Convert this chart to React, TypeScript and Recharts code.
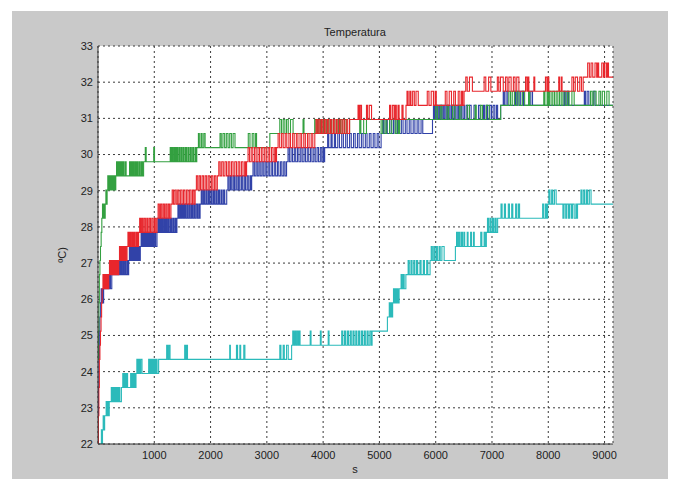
import React from "react";
import { LineChart, Line, XAxis, YAxis, CartesianGrid } from "recharts";

const title = "Temperatura";
const xLabel = "s";
const yLabel = "ºC)";
const xTicks = [1000, 2000, 3000, 4000, 5000, 6000, 7000, 8000, 9000];
const yTicks = [22, 23, 24, 25, 26, 27, 28, 29, 30, 31, 32, 33];

const red: [number, number][] = [
  [0,22.0],[8,22.78],[16,23.56],[24,24.34],[34,24.73],[44,25.12],[54,25.51],[64,25.9],[74,26.29],
  [88,26.68],[100,26.29],[114,26.68],[126,26.29],[140,26.68],[152,26.29],[166,26.68],[178,26.29],[191,26.68],
  [204,27.07],[216,26.68],[232,27.07],[248,26.68],[266,27.07],[282,26.68],[300,27.07],[316,26.68],[334,27.07],[350,26.68],[368,27.07],
  [382,27.46],[396,27.07],[412,27.46],[428,27.07],[446,27.46],[462,27.07],[480,27.46],[496,27.07],[516,27.46],
  [532,27.85],[548,27.46],[566,27.85],[584,27.46],[604,27.85],[622,27.46],[642,27.85],[662,27.46],[684,27.85],[704,27.46],[722,27.85],
  [740,28.24],[758,27.85],[778,28.24],[798,27.85],[820,28.24],[842,27.85],[866,28.24],[886,27.85],[910,28.24],[932,27.85],[956,28.24],[980,27.85],[1004,28.24],[1026,27.85],[1048,28.24],
  [1068,28.63],[1090,28.24],[1112,28.63],[1134,28.24],[1158,28.63],[1180,28.24],[1204,28.63],[1226,28.24],[1250,28.63],[1272,28.24],[1296,28.63],
  [1318,29.02],[1340,28.63],[1366,29.02],[1390,28.63],[1416,29.02],[1440,28.63],[1468,29.02],[1494,28.63],[1520,29.02],[1546,28.63],[1574,29.02],[1600,28.63],[1628,29.02],[1654,28.63],[1680,29.02],[1704,28.63],[1726,29.02],
  [1748,29.41],[1772,29.02],[1798,29.41],[1822,29.02],[1850,29.41],[1876,29.02],[1904,29.41],[1930,29.02],[1958,29.41],[1986,29.02],[2014,29.41],[2040,29.02],[2068,29.41],[2094,29.02],[2120,29.41],
  [2146,29.8],[2170,29.41],[2198,29.8],[2226,29.41],[2256,29.8],[2284,29.41],[2314,29.8],[2342,29.41],[2372,29.8],[2400,29.41],[2430,29.8],[2460,29.41],[2490,29.8],[2518,29.41],[2548,29.8],[2576,29.41],[2606,29.8],[2624,29.41],[2640,29.8],
  [2666,30.19],[2692,29.8],[2722,30.19],[2750,29.8],[2782,30.19],[2810,29.8],[2842,30.19],[2870,29.8],[2902,30.19],[2930,29.8],[2962,30.19],[2990,29.8],[3022,30.19],[3050,29.8],[3082,30.19],[3110,29.8],[3140,30.19],[3160,29.8],[3172,30.19],
  [3200,30.58],[3228,30.19],[3262,30.58],[3290,30.19],[3326,30.58],[3354,30.19],[3392,30.58],[3420,30.19],[3458,30.58],[3486,30.19],[3524,30.58],[3552,30.19],[3590,30.58],[3618,30.19],[3656,30.58],[3684,30.19],[3722,30.58],[3750,30.19],[3788,30.58],[3816,30.19],[3852,30.58],
  [3874,30.97],[3896,30.58],[3922,30.97],[3946,30.58],[3972,30.97],[3996,30.58],[4024,30.97],[4048,30.58],[4076,30.97],[4100,30.58],[4130,30.97],[4154,30.58],[4184,30.97],[4208,30.58],[4238,30.97],[4262,30.58],[4292,30.97],[4318,30.58],[4350,30.97],[4376,30.58],[4410,30.97],[4436,30.58],[4470,30.97],
  [4620,31.36],[4640,30.97],[4660,31.36],[4682,30.97],[4770,31.36],[4790,30.97],[4820,31.36],[4860,30.97],[5180,31.36],[5200,30.97],[5230,31.36],[5260,30.97],[5280,31.36],[5300,30.97],[5330,31.36],[5350,30.97],[5400,31.36],[5420,30.97],
  [5472,31.36],
  [5490,31.75],[5510,31.36],[5540,31.75],[5560,31.36],[5590,31.75],[5620,31.36],[5650,31.75],[5690,31.36],[5850,31.75],[5880,31.36],[5920,31.75],[5960,31.36],[5990,31.75],[6010,31.36],[6170,31.75],[6200,31.36],[6240,31.75],[6280,31.36],[6320,31.75],[6350,31.36],[6400,31.75],[6430,31.36],[6460,31.75],[6480,31.36],
  [6504,31.75],
  [6534,32.14],[6560,31.75],[6600,32.14],[6652,31.75],[6860,32.14],[6890,31.75],[6940,32.14],[6980,31.75],[7095,32.14],[7120,31.75],[7150,32.14],[7200,31.75],[7240,32.14],[7270,31.75],[7300,32.14],[7340,31.75],[7380,32.14],[7410,31.75],[7440,32.14],[7478,31.75],[7596,32.14],[7620,31.75],[7640,32.14],[7655,31.75],[7744,32.14],[7760,31.75],[7950,32.14],[7975,31.75],[7995,32.14],[8010,31.75],[8186,32.14],[8200,31.75],[8230,32.14],[8245,31.75],[8420,32.14],[8450,31.75],[8480,32.14],[8520,31.75],[8560,32.14],[8590,31.75],[8620,32.14],
  [8690,32.14],
  [8700,32.53],[8730,32.14],[8760,32.53],[8790,32.14],[8830,32.53],[8860,32.14],[8880,32.53],[8895,32.14],[8950,32.53],[8980,32.14],[9000,32.53],[9030,32.14],[9050,32.53],[9070,32.14],[9150,32.14],
];

const blue: [number, number][] = [
  [0,22.78],[8,23.56],[16,24.34],[24,25.12],[32,25.51],[42,25.9],
  [56,26.29],[66,25.9],[78,26.29],[88,25.9],[100,26.29],
  [112,26.68],[122,26.29],[134,26.68],[146,26.29],[158,26.68],[170,26.29],[184,26.68],[196,26.29],[210,26.68],[222,26.29],[245,26.68],
  [258,27.07],[270,26.68],[284,27.07],[296,26.68],[312,27.07],[326,26.68],[342,27.07],[356,26.68],[374,27.07],[390,26.68],[410,27.07],[426,26.68],[446,27.07],[462,26.68],[482,27.07],[498,26.68],[520,27.07],[534,26.68],[545,27.07],
  [558,27.46],[570,27.07],[586,27.46],[600,27.07],[616,27.46],[632,27.07],[648,27.46],[664,27.07],[682,27.46],[698,27.07],[716,27.46],[732,27.07],[752,27.46],
  [766,27.85],[780,27.46],[796,27.85],[812,27.46],[830,27.85],[846,27.46],[864,27.85],[880,27.46],[898,27.85],[914,27.46],[934,27.85],[950,27.46],[970,27.85],[986,27.46],[1006,27.85],[1024,27.46],[1048,27.85],
  [1064,28.24],[1080,27.85],[1098,28.24],[1116,27.85],[1134,28.24],[1152,27.85],[1172,28.24],[1190,27.85],[1210,28.24],[1228,27.85],[1248,28.24],[1266,27.85],[1288,28.24],[1306,27.85],[1328,28.24],[1346,27.85],[1368,28.24],[1386,27.85],[1402,28.24],
  [1420,28.63],[1438,28.24],[1458,28.63],[1476,28.24],[1496,28.63],[1516,28.24],[1536,28.63],[1556,28.24],[1578,28.63],[1598,28.24],[1620,28.63],[1640,28.24],[1662,28.63],[1682,28.24],[1704,28.63],[1724,28.24],[1746,28.63],[1768,28.24],[1790,28.63],[1804,28.24],[1814,28.63],
  [1834,29.02],[1854,28.63],[1876,29.02],[1896,28.63],[1920,29.02],[1940,28.63],[1964,29.02],[1984,28.63],[2008,29.02],[2028,28.63],[2052,29.02],[2072,28.63],[2096,29.02],[2116,28.63],[2140,29.02],[2160,28.63],[2186,29.02],[2206,28.63],[2232,29.02],[2252,28.63],[2287,29.02],
  [2308,29.41],[2330,29.02],[2354,29.41],[2376,29.02],[2402,29.41],[2424,29.02],[2450,29.41],[2472,29.02],[2498,29.41],[2520,29.02],[2548,29.41],[2570,29.02],[2598,29.41],[2620,29.02],[2648,29.41],[2670,29.02],[2700,29.41],[2716,29.02],[2730,29.41],
  [2754,29.8],[2778,29.41],[2806,29.8],[2830,29.41],[2858,29.8],[2882,29.41],[2912,29.8],[2936,29.41],[2966,29.8],[2990,29.41],[3020,29.8],[3044,29.41],[3076,29.8],[3100,29.41],[3132,29.8],[3156,29.41],[3188,29.8],[3212,29.41],[3244,29.8],[3268,29.41],[3300,29.8],[3324,29.41],[3350,29.8],
  [3376,30.19],[3400,29.8],[3430,30.19],[3456,29.8],[3488,30.19],[3512,29.8],[3544,30.19],[3570,29.8],[3602,30.19],[3628,29.8],[3660,30.19],[3686,29.8],[3718,30.19],[3744,29.8],[3776,30.19],[3802,29.8],[3834,30.19],[3860,29.8],[3892,30.19],[3918,29.8],[3950,30.19],[3976,29.8],[4000,30.19],[4014,29.8],[4027,30.19],
  [4080,30.58],[4100,30.19],[4140,30.58],[4160,30.19],[4200,30.58],[4220,30.19],[4260,30.58],[4290,30.19],[4330,30.58],[4360,30.19],[4400,30.58],[4430,30.19],[4470,30.58],[4500,30.19],[4540,30.58],[4570,30.19],[4610,30.58],[4640,30.19],[4680,30.58],[4710,30.19],[4750,30.58],[4780,30.19],[4820,30.58],[4850,30.19],[4890,30.58],[4920,30.19],[4960,30.58],[4990,30.19],[5030,30.58],
  [5060,30.97],[5080,30.58],[5120,30.97],[5140,30.58],[5180,30.97],[5210,30.58],[5250,30.97],[5280,30.58],[5320,30.97],[5350,30.58],[5390,30.97],[5420,30.58],[5460,30.97],[5490,30.58],[5530,30.97],[5560,30.58],[5600,30.97],[5630,30.58],[5670,30.97],[5700,30.58],[5740,30.97],[5770,30.58],[5943,30.97],
  [5960,31.36],[5980,30.97],[6000,31.36],[6022,30.97],[6044,31.36],[6066,30.97],[6090,31.36],[6112,30.97],[6136,31.36],[6160,30.97],[6184,31.36],[6208,30.97],[6232,31.36],[6256,30.97],[6282,31.36],[6306,30.97],[6332,31.36],[6356,30.97],[6382,31.36],[6406,30.97],[6432,31.36],[6456,30.97],[6484,31.36],[6510,30.97],[6540,31.36],[6566,30.97],[6600,31.36],[6630,30.97],[6680,31.36],[6710,30.97],[6760,31.36],[6790,30.97],[6850,31.36],[6870,30.97],[6900,31.36],[6920,30.97],[6960,31.36],[6990,30.97],[7020,31.36],[7050,30.97],[7080,31.36],[7100,30.97],[7154,31.36],
  [7200,31.75],[7220,31.36],[7250,31.75],[7280,31.36],[7400,31.75],[7420,31.36],[7450,31.75],[7480,31.36],[7510,31.75],[7560,31.36],[7690,31.75],[7720,31.36],[8280,31.75],[8300,31.36],[8330,31.75],[8360,31.36],[8640,31.75],[8660,31.36],[8690,31.75],[8720,31.36],[8800,31.75],[8830,31.36],[9150,31.36],
];

const green: [number, number][] = [
  [0,24.34],[8,25.12],[16,25.9],[24,26.68],[34,27.07],[44,27.46],[56,27.85],[68,28.24],
  [80,28.63],[92,28.24],[104,28.63],[116,28.24],[128,28.63],[140,29.02],[150,28.63],[162,29.02],
  [174,29.41],[186,29.02],[198,29.41],[212,29.02],[226,29.41],[240,29.02],[256,29.41],[270,29.02],[286,29.41],[300,29.02],[316,29.41],
  [330,29.8],[344,29.41],[358,29.8],[372,29.41],[388,29.8],[402,29.41],[418,29.8],[434,29.41],[450,29.8],[466,29.41],[490,29.8],[500,29.41],[560,29.8],[574,29.41],[590,29.8],[606,29.41],[624,29.8],[640,29.41],[660,29.8],[676,29.41],[696,29.8],[712,29.41],[734,29.8],[750,29.41],[772,29.8],[790,29.41],[810,29.8],
  [840,30.19],[856,29.8],[990,30.19],[1004,29.8],
  [1283,30.19],[1300,29.8],[1318,30.19],[1336,29.8],[1356,30.19],[1374,29.8],[1394,30.19],[1412,29.8],[1434,30.19],[1452,29.8],[1474,30.19],[1492,29.8],[1514,30.19],[1532,29.8],[1556,30.19],[1574,29.8],[1598,30.19],[1616,29.8],[1640,30.19],[1658,29.8],[1682,30.19],[1700,29.8],[1726,30.19],[1740,29.8],[1755,30.19],
  [1784,30.58],[1800,30.19],[1830,30.58],[1850,30.19],[1880,30.58],[1903,30.19],
  [2168,30.58],[2190,30.19],[2220,30.58],[2250,30.19],[2280,30.58],[2310,30.19],[2340,30.58],[2370,30.19],[2400,30.58],[2434,30.19],
  [2670,30.58],[2700,30.19],[2740,30.58],[2770,30.19],[2800,30.58],[2817,30.19],
  [3053,30.58],
  [3230,30.97],[3260,30.58],[3290,30.97],[3320,30.58],[3350,30.97],[3380,30.58],[3420,30.97],[3466,30.58],[3643,30.97],[3660,30.58],
  [3850,30.97],[3874,30.58],[3900,30.97],[3924,30.58],[3952,30.97],[3978,30.58],[4006,30.97],[4032,30.58],[4062,30.97],[4090,30.58],[4120,30.97],[4148,30.58],[4180,30.97],[4210,30.58],[4244,30.97],[4274,30.58],[4310,30.97],[4340,30.58],[4380,30.97],[4410,30.58],[4470,30.97],
  [4650,30.58],[4670,30.97],[4720,30.58],[4770,30.97],
  [5030,30.58],[5060,30.97],[5100,30.58],[5130,30.97],[5180,30.58],[5220,30.97],[5280,30.58],[5310,30.97],[5340,30.58],[5360,30.97],
  [6000,31.36],[6030,30.97],[6080,31.36],[6110,30.97],[6200,31.36],[6230,30.97],[6300,31.36],[6340,30.97],[6420,31.36],[6450,30.97],[6560,31.36],[6600,30.97],[6700,31.36],[6720,30.97],[6800,31.36],[6830,30.97],[6900,31.36],[6950,30.97],
  [7154,31.36],
  [7300,31.75],[7330,31.36],[7360,31.75],[7400,31.36],[7440,31.75],[7480,31.36],[7540,31.75],[7580,31.36],[7650,31.75],[7670,31.36],
  [7920,31.75],[7940,31.36],[7980,31.75],[8000,31.36],[8020,31.75],[8050,31.36],[8080,31.75],[8110,31.36],[8140,31.75],[8170,31.36],[8200,31.75],[8230,31.36],[8260,31.75],[8300,31.36],[8340,31.75],[8370,31.36],[8420,31.75],[8460,31.36],
  [8750,31.75],[8780,31.36],[8810,31.75],[8850,31.36],[8900,31.75],[8930,31.36],[8960,31.75],[9000,31.36],[9040,31.75],[9080,31.36],[9150,31.36],
];

const cyan: [number, number][] = [
  [0,22.0],[50,22.0],[60,22.39],[70,22.0],[80,22.39],[92,22.78],[104,22.39],[118,22.78],[133,22.78],
  [145,23.17],[158,22.78],[172,23.17],[186,22.78],[200,23.17],[221,23.17],
  [236,23.56],[250,23.17],[266,23.56],[282,23.17],[300,23.56],[318,23.17],[336,23.56],[354,23.17],[372,23.56],[388,23.17],[416,23.56],
  [440,23.95],[456,23.56],[474,23.95],[492,23.56],[510,23.95],[526,23.56],[580,23.95],[596,23.56],[614,23.95],[630,23.56],[648,23.95],[664,23.56],[675,23.95],
  [690,24.34],[706,23.95],[724,24.34],[740,23.95],[760,24.34],[782,23.95],
  [900,24.34],[915,23.95],[932,24.34],[948,23.95],[966,24.34],[982,23.95],[1000,24.34],[1016,23.95],[1034,24.34],[1050,23.95],[1077,24.34],
  [1220,24.73],[1240,24.34],[1260,24.73],[1280,24.34],[1540,24.73],[1560,24.34],[1575,24.73],[1590,24.34],[2340,24.73],[2352,24.34],[2460,24.73],[2480,24.34],[2520,24.73],[2535,24.34],[2590,24.73],[2610,24.34],[3230,24.73],[3250,24.34],[3290,24.73],[3310,24.34],[3350,24.73],[3380,24.34],
  [3440,24.73],
  [3460,25.12],[3480,24.73],[3500,25.12],[3520,24.73],[3540,25.12],[3560,24.73],[3580,25.12],[3590,24.73],[3770,25.12],[3785,24.73],[3950,25.12],[3965,24.73],[4090,25.12],[4105,24.73],
  [4330,25.12],[4350,24.73],[4380,25.12],[4400,24.73],[4430,25.12],[4450,24.73],[4480,25.12],[4500,24.73],[4530,25.12],[4550,24.73],[4580,25.12],[4600,24.73],[4630,25.12],[4650,24.73],[4680,25.12],[4700,24.73],[4730,25.12],[4750,24.73],[4780,25.12],[4800,24.73],[4830,25.12],[4853,24.73],[4870,25.12],
  [5142,25.51],[5175,25.9],[5190,25.51],[5205,25.9],[5220,25.51],[5235,25.9],
  [5250,26.29],[5265,25.9],[5280,26.29],[5295,25.9],[5310,26.29],[5330,25.9],[5350,26.29],
  [5385,26.68],[5400,26.29],[5420,26.68],[5440,26.29],[5470,26.68],
  [5510,27.07],[5530,26.68],[5560,27.07],[5580,26.68],[5610,27.07],[5630,26.68],[5660,27.07],[5680,26.68],[5720,27.07],[5740,26.68],[5780,27.07],[5800,26.68],[5840,27.07],[5860,26.68],[5900,27.07],
  [5920,27.46],[5940,27.07],[5965,27.46],[5985,27.07],[6010,27.46],[6030,27.07],[6060,27.46],[6080,27.07],[6110,27.46],[6150,27.07],
  [6350,27.46],[6370,27.85],[6390,27.46],[6410,27.85],[6430,27.46],[6455,27.85],[6475,27.46],[6500,27.85],[6515,27.46],[6560,27.85],[6575,27.46],[6620,27.85],[6635,27.46],[6670,27.85],[6685,27.46],[6800,27.85],[6820,27.46],[6860,27.85],[6880,27.46],
  [6900,27.85],[6920,28.24],[6940,27.85],[6965,28.24],[6985,27.85],[7010,28.24],[7030,27.85],[7055,28.24],[7075,27.85],[7100,28.24],
  [7160,28.63],[7180,28.24],[7220,28.63],[7240,28.24],[7290,28.63],[7310,28.24],[7350,28.63],[7370,28.24],[7420,28.63],[7440,28.24],[7470,28.63],[7490,28.24],[7900,28.63],[7920,28.24],[7950,28.63],[7970,28.24],
  [7990,28.63],[8010,29.02],[8030,28.63],[8060,29.02],[8080,28.63],[8110,29.02],[8140,28.63],
  [8260,28.24],[8280,28.63],[8310,28.24],[8330,28.63],[8360,28.24],[8380,28.63],[8410,28.24],[8430,28.63],[8460,28.24],[8490,28.63],[8500,28.24],[8520,28.63],
  [8580,29.02],[8600,28.63],[8630,29.02],[8650,28.63],[8680,29.02],[8700,28.63],[8730,29.02],[8760,28.63],[9150,28.63],
];

const toRows = (pairs: [number, number][]) => pairs.map(([t, v]) => ({ t, v }));

const FONT = "'Liberation Sans', Arial, sans-serif";
const tickStyle = { fontSize: 11, fill: "#222", fontFamily: FONT };

export default function App() {
  const series = [
    { name: "cyan", data: toRows(cyan), color: "#2bbaba" },
    { name: "blue", data: toRows(blue), color: "#3142a8" },
    { name: "green", data: toRows(green), color: "#33a040" },
    { name: "red", data: toRows(red), color: "#e8262c" },
  ];
  return (
    <div style={{ position: "absolute", left: 0, top: 0, width: 678, height: 491, background: "#fff", overflow: "hidden" }}>
      <div style={{ position: "absolute", left: 12, top: 11, width: 656, height: 468, background: "#c9c9c9" }} />
      <div style={{ position: "absolute", left: 0, top: 0 }}>
        <LineChart width={678} height={491} margin={{ top: 46, left: 68, right: 65, bottom: 17 }}>
          <CartesianGrid fill="#fff" stroke="#3a3a3a" strokeDasharray="2 3" />
          <XAxis
            dataKey="t"
            type="number"
            domain={[0, 9150]}
            ticks={xTicks}
            height={30}
            tickLine={false}
            tickSize={0}
            tickMargin={7}
            tick={tickStyle}
            stroke="#333"
            interval={0}
            allowDataOverflow
          />
          <XAxis xAxisId="top" orientation="top" type="number" domain={[0, 9150]} ticks={xTicks} height={0} tick={false} tickLine={false} stroke="#333" />
          <YAxis
            type="number"
            domain={[22, 33]}
            ticks={yTicks}
            width={30}
            tickLine={false}
            tickSize={0}
            tickMargin={5}
            tick={tickStyle}
            stroke="#333"
            interval={0}
            allowDataOverflow
          />
          <YAxis yAxisId="right" orientation="right" type="number" domain={[22, 33]} ticks={yTicks} width={0} tick={false} tickLine={false} stroke="#333" />
          {series.map((s) => (
            <Line
              key={s.name}
              data={s.data}
              dataKey="v"
              type="stepAfter"
              stroke={s.color}
              strokeWidth={1.1}
              dot={false}
              activeDot={false}
              isAnimationActive={false}
            />
          ))}
        </LineChart>
      </div>
      <div style={{ position: "absolute", left: 255, width: 200, top: 26, textAlign: "center", fontFamily: FONT, fontSize: 11, color: "#222" }}>{title}</div>
      <div style={{ position: "absolute", left: 305, width: 100, top: 463, textAlign: "center", fontFamily: FONT, fontSize: 11, color: "#222" }}>{xLabel}</div>
      <div style={{ position: "absolute", left: 62, top: 255, transform: "translate(-50%, -50%) rotate(-90deg)", fontFamily: FONT, fontSize: 11, color: "#222", whiteSpace: "nowrap" }}>{yLabel}</div>
    </div>
  );
}
